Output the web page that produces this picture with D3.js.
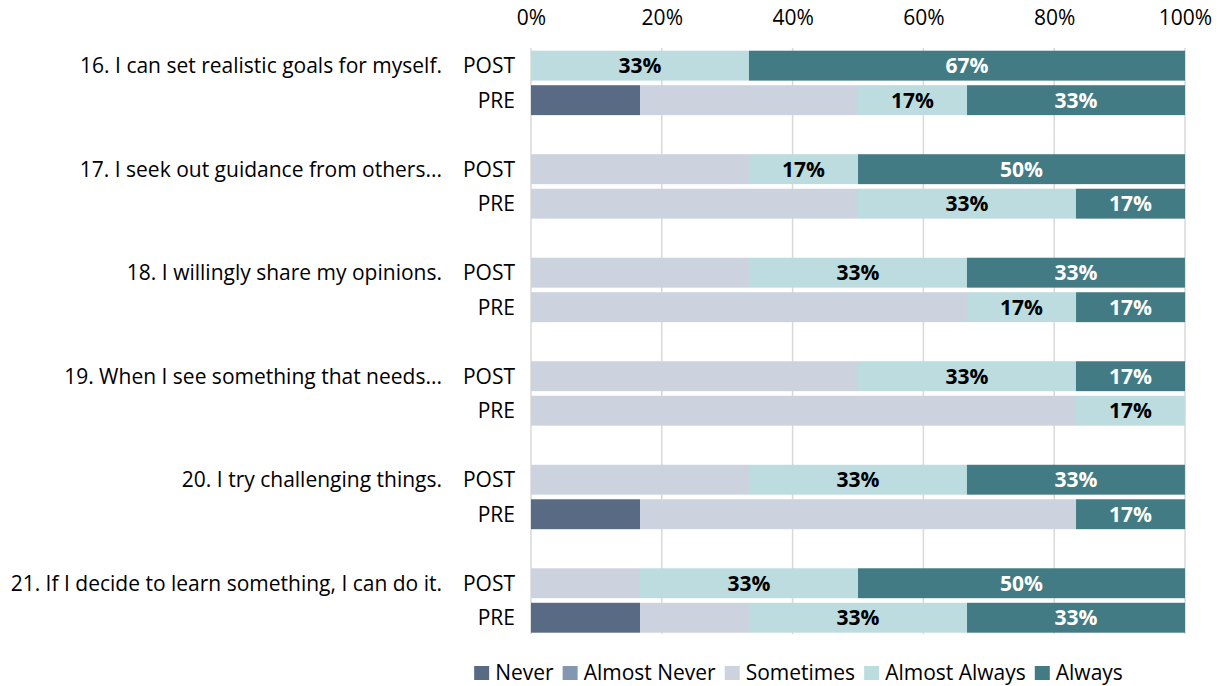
<!DOCTYPE html>
<html>
<head>
<meta charset="utf-8">
<script src="https://cdn.jsdelivr.net/npm/d3@7"></script>
<style>
  html, body { margin: 0; padding: 0; background: #fff; }
  svg text { font-family: "Open Sans", Carlito, Calibri, sans-serif; }
</style>
</head>
<body>
<svg id="chart" width="1223" height="686"></svg>
<script>
// Survey items (one group per item, POST bar above PRE bar)
const questions = [
  "16. I can set realistic goals for myself.",
  "17. I seek out guidance from others...",
  "18. I willingly share my opinions.",
  "19. When I see something that needs...",
  "20. I try challenging things.",
  "21. If I decide to learn something, I can do it."
];
const periods = ["POST", "PRE"];
const levels = ["Never", "Almost Never", "Sometimes", "Almost Always", "Always"];

// Percent of respondents per row, rows ordered Q16 POST, Q16 PRE, Q17 POST, ...
const never        = [0, 16.67, 0, 0, 0, 0, 0, 0, 0, 16.67, 0, 16.67];
const almostNever  = [0, 0, 0, 0, 0, 0, 0, 0, 0, 0, 0, 0];
const sometimes    = [0, 33.33, 33.33, 50, 33.33, 66.67, 50, 83.33, 33.33, 66.67, 16.67, 16.67];
const almostAlways = [33.33, 16.67, 16.67, 33.33, 33.33, 16.67, 33.33, 16.67, 33.33, 0, 33.33, 33.33];
const always       = [66.67, 33.33, 50, 16.67, 33.33, 16.67, 16.67, 0, 33.33, 16.67, 50, 33.33];

const xTicks = [0, 20, 40, 60, 80, 100];

const colors = ["#596a84", "#8497b0", "#ccd2de", "#bddcdf", "#427b83"];
const labelColors = [null, null, null, "#000000", "#ffffff"]; // only the two top levels carry labels

const seriesValues = [never, almostNever, sometimes, almostAlways, always];

const fontSize = 21;

// Build row records
const rows = [];
questions.forEach((q, gi) => {
  periods.forEach((p, pi) => {
    const idx = gi * 2 + pi;
    const rec = { slot: gi * 3 + pi, question: q, period: p };
    levels.forEach((lv, li) => { rec[lv] = seriesValues[li][idx]; });
    rows.push(rec);
  });
});

const stacked = d3.stack().keys(levels)(rows);

const svg = d3.select("#chart");
const plotLeft = 531, plotRight = 1185, plotTop = 48.4, plotBottom = 635;

const x = d3.scaleLinear().domain([0, 100]).range([plotLeft, plotRight]);
const nSlots = questions.length * 3 - 1;
const y = d3.scaleBand()
  .domain(d3.range(nSlots))
  .range([plotTop, plotBottom])
  .paddingInner(0.133)
  .paddingOuter(0.0667);

// Vertical gridlines
svg.append("g")
  .selectAll("line")
  .data(xTicks)
  .join("line")
  .attr("x1", d => x(d)).attr("x2", d => x(d))
  .attr("y1", 48).attr("y2", 634)
  .attr("stroke", "#d9d9d9")
  .attr("stroke-width", 1.5);

// Top axis labels
const xAxis = d3.axisTop(x).tickValues(xTicks).tickFormat(d => d + "%").tickSize(0).tickPadding(0);
const gx = svg.append("g").attr("transform", "translate(0,25)").call(xAxis);
gx.select(".domain").remove();
gx.selectAll("text")
  .attr("dy", 0)
  .attr("font-size", fontSize)
  .attr("fill", "#000")
  .style("font-family", "'Open Sans', Carlito, Calibri, sans-serif");

// Stacked bars
const layers = svg.append("g")
  .selectAll("g")
  .data(stacked)
  .join("g")
  .attr("fill", (d, i) => colors[i]);

layers.selectAll("rect")
  .data(d => d.filter(s => s[1] - s[0] > 0))
  .join("rect")
  .attr("x", d => x(d[0]))
  .attr("width", d => x(d[1]) - x(d[0]))
  .attr("y", d => y(d.data.slot))
  .attr("height", y.bandwidth());

// Value labels on "Almost Always" and "Always"
stacked.forEach((layer, li) => {
  if (!labelColors[li]) return;
  svg.append("g")
    .selectAll("text")
    .data(layer.filter(s => s[1] - s[0] > 0))
    .join("text")
    .attr("x", d => (x(d[0]) + x(d[1])) / 2)
    .attr("y", d => y(d.data.slot) + y.bandwidth() / 2)
    .attr("dy", "0.36em")
    .attr("text-anchor", "middle")
    .attr("font-size", fontSize)
    .attr("font-weight", "bold")
    .attr("fill", labelColors[li])
    .text(d => Math.round(d[1] - d[0]) + "%");
});

// Period labels
svg.append("g")
  .selectAll("text")
  .data(rows)
  .join("text")
  .attr("x", 515)
  .attr("y", d => y(d.slot) + y.bandwidth() / 2)
  .attr("dy", "0.36em")
  .attr("text-anchor", "end")
  .attr("font-size", fontSize)
  .attr("fill", "#000")
  .text(d => d.period);

// Question labels
svg.append("g")
  .selectAll("text")
  .data(questions)
  .join("text")
  .attr("x", 442)
  .attr("y", (d, i) => y(i * 3) + y.bandwidth() / 2)
  .attr("dy", "0.36em")
  .attr("text-anchor", "end")
  .attr("font-size", fontSize)
  .attr("fill", "#000")
  .text(d => d);

// Legend
const legend = svg.append("g").attr("transform", "translate(0,672)");
const items = legend.selectAll("g")
  .data(levels)
  .join("g");
items.append("rect")
  .attr("width", 15).attr("height", 14)
  .attr("y", -6)
  .attr("fill", (d, i) => colors[i]);
items.append("text")
  .attr("x", 21)
  .attr("dy", "0.36em")
  .attr("font-size", fontSize)
  .attr("fill", "#000")
  .text(d => d);
const widths = [];
items.each(function () {
  widths.push(21 + this.querySelector("text").getComputedTextLength());
});
const gap = 9;
const total = d3.sum(widths) + gap * (widths.length - 1);
let cursor = 798.5 - total / 2;
items.attr("transform", (d, i) => {
  const t = `translate(${cursor},0)`;
  cursor += widths[i] + gap;
  return t;
});
</script>
</body>
</html>
